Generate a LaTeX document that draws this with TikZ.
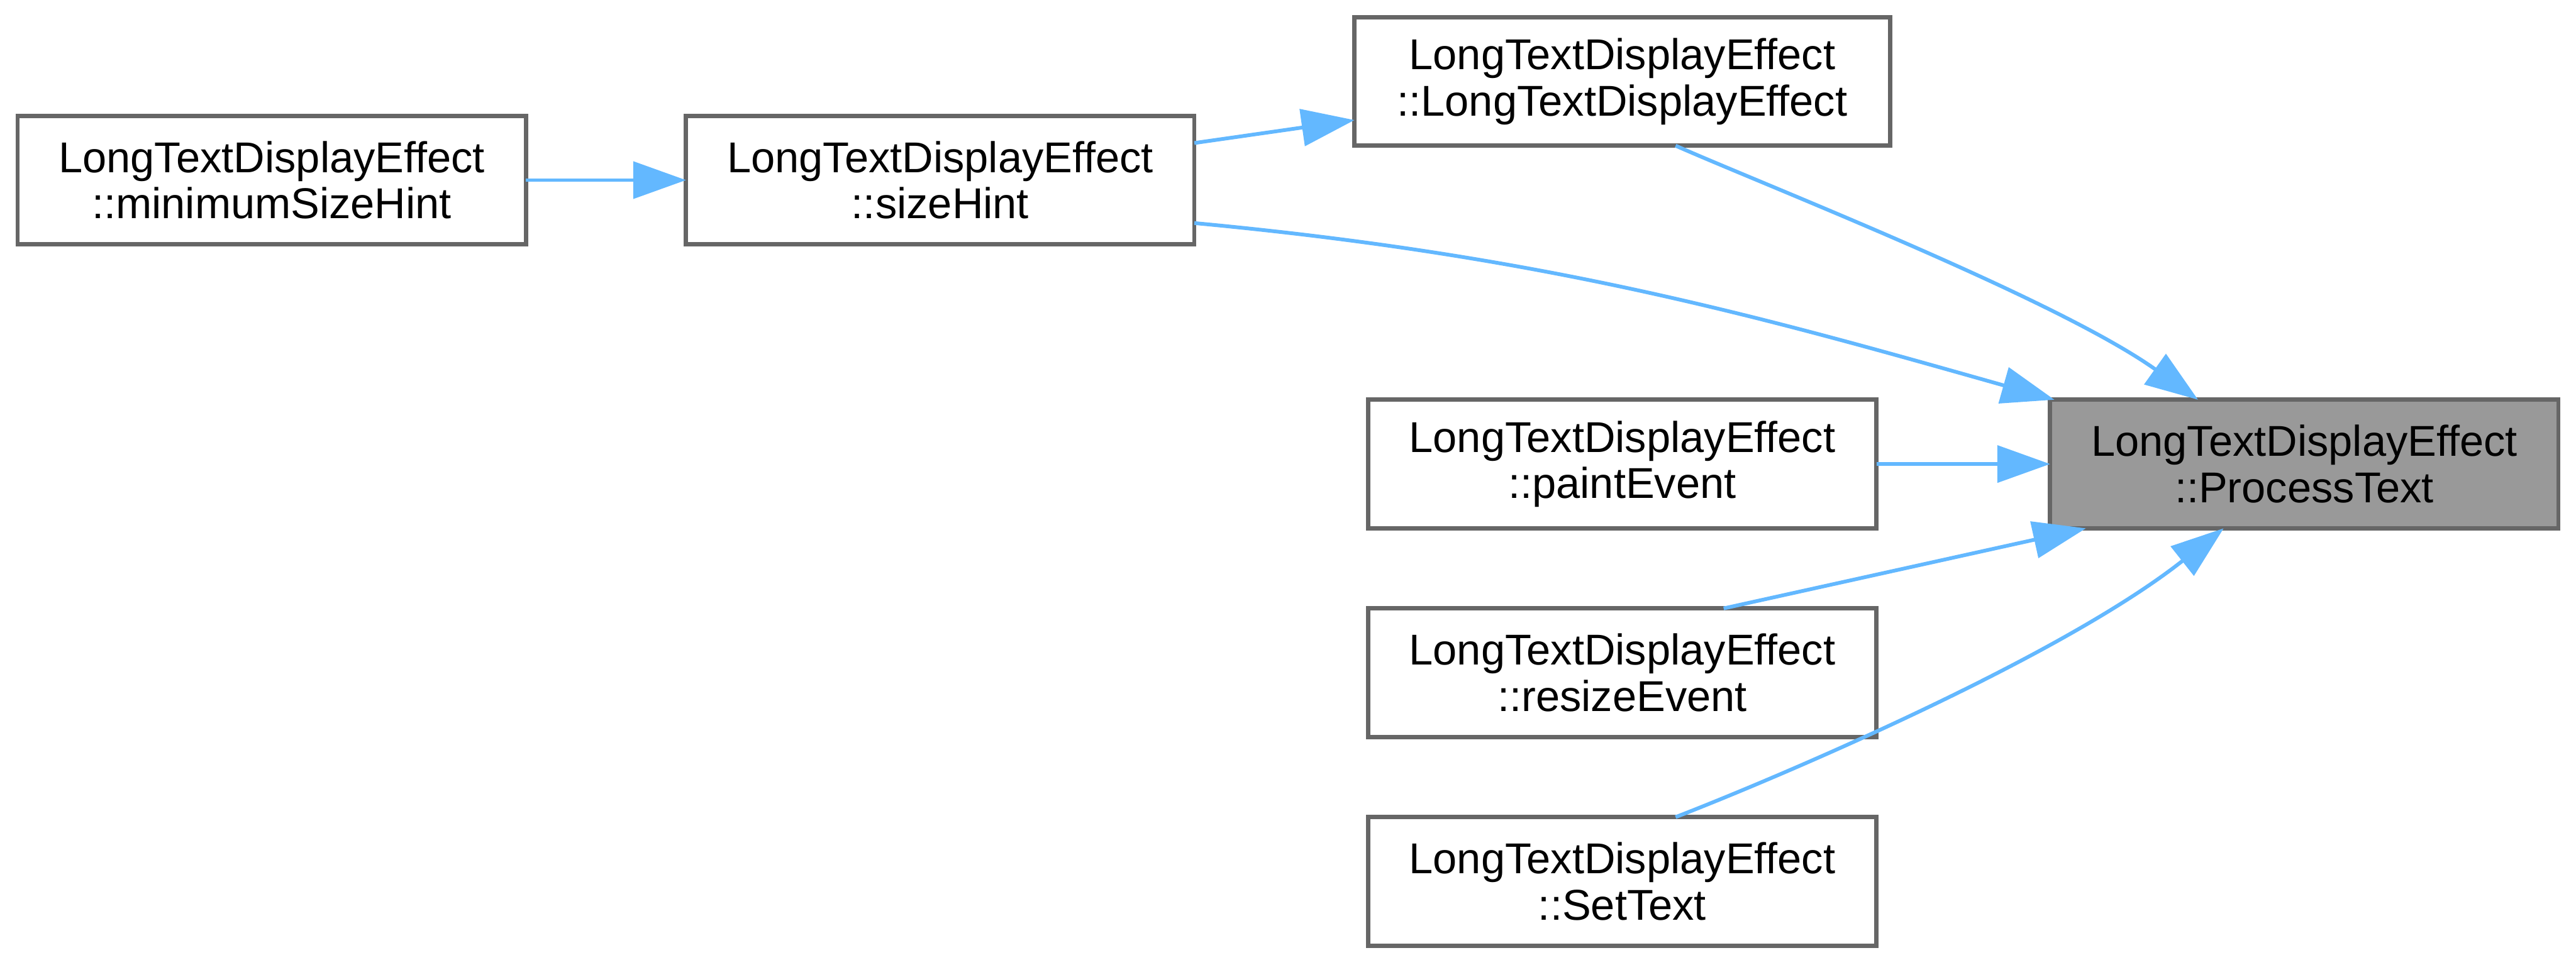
\documentclass[tikz,border=0pt]{standalone}
\usepackage{xcolor}
\usepackage{fontspec}
\setmainfont{Liberation Sans}
\usepackage{tikz}
\usetikzlibrary{shapes,arrows,positioning,calc,arrows.meta}

\definecolor{edgeblue}{HTML}{63B8FF}
\definecolor{boxborder}{HTML}{666666}
\definecolor{focusgray}{HTML}{999999}

\begin{document}
\begin{tikzpicture}[
    func/.style={rectangle,draw=boxborder,line width=0.08cm,outer sep=0pt,fill=white,
      minimum width=9.52cm,minimum height=2.41cm,align=center,
      font=\fontsize{23}{24.7}\selectfont},
    focus/.style={func,fill=focusgray},
    arrow/.style={-{Triangle[length=0.99cm,width=0.69cm]},draw=edgeblue,line width=0.07cm}
    ]

    \useasboundingbox (0,0) rectangle (48.25,-18.08);

    \node[func] (minSizeHint) at (5.09,-3.375) {
      LongTextDisplayEffect\\::minimumSizeHint
    };

    \node[func,right=3cm of minSizeHint] (sizeHint) {
      LongTextDisplayEffect\\::sizeHint
    };

    \node[func,minimum width=10.03cm,right=3cm of sizeHint,yshift=1.85cm] (ctor) {
      LongTextDisplayEffect\\::LongTextDisplayEffect
    };

    \node[func,below=4.76cm of ctor] (paint) {
      LongTextDisplayEffect\\::paintEvent
    };

    \node[func,below=1.5cm of paint] (resize) {
      LongTextDisplayEffect\\::resizeEvent
    };

    \node[func,below=1.5cm of resize] (setText) {
      LongTextDisplayEffect\\::SetText
    };

    \node[focus,right=3.255cm of paint] (processText) {
      LongTextDisplayEffect\\::ProcessText
    };

    \draw[arrow] (minSizeHint)--(sizeHint);
    \draw[arrow] ([yshift=0.695cm]sizeHint.east)--([yshift=-0.725cm]ctor.west);
    \draw[arrow] ([yshift=-0.805cm]sizeHint.east) .. controls +(6.63,-0.62) and +(-5.48,1.55) .. ([xshift=0.08cm]processText.north west);
    \draw[arrow] ([xshift=1cm]ctor.south) .. controls +(1.6,-0.71) and +(-2.67,1.9) .. ([xshift=2.77cm]processText.north west);
    \draw[arrow] (paint)--(processText);
    \draw[arrow] ([xshift=1.9cm]resize.north)--([xshift=0.67cm]processText.south west);
    \draw[arrow] ([xshift=1cm]setText.north) .. controls +(1.61,0.62) and +(-3.15,-2.49) .. ([xshift=3.25cm]processText.south west);

  \end{tikzpicture}
\end{document}
